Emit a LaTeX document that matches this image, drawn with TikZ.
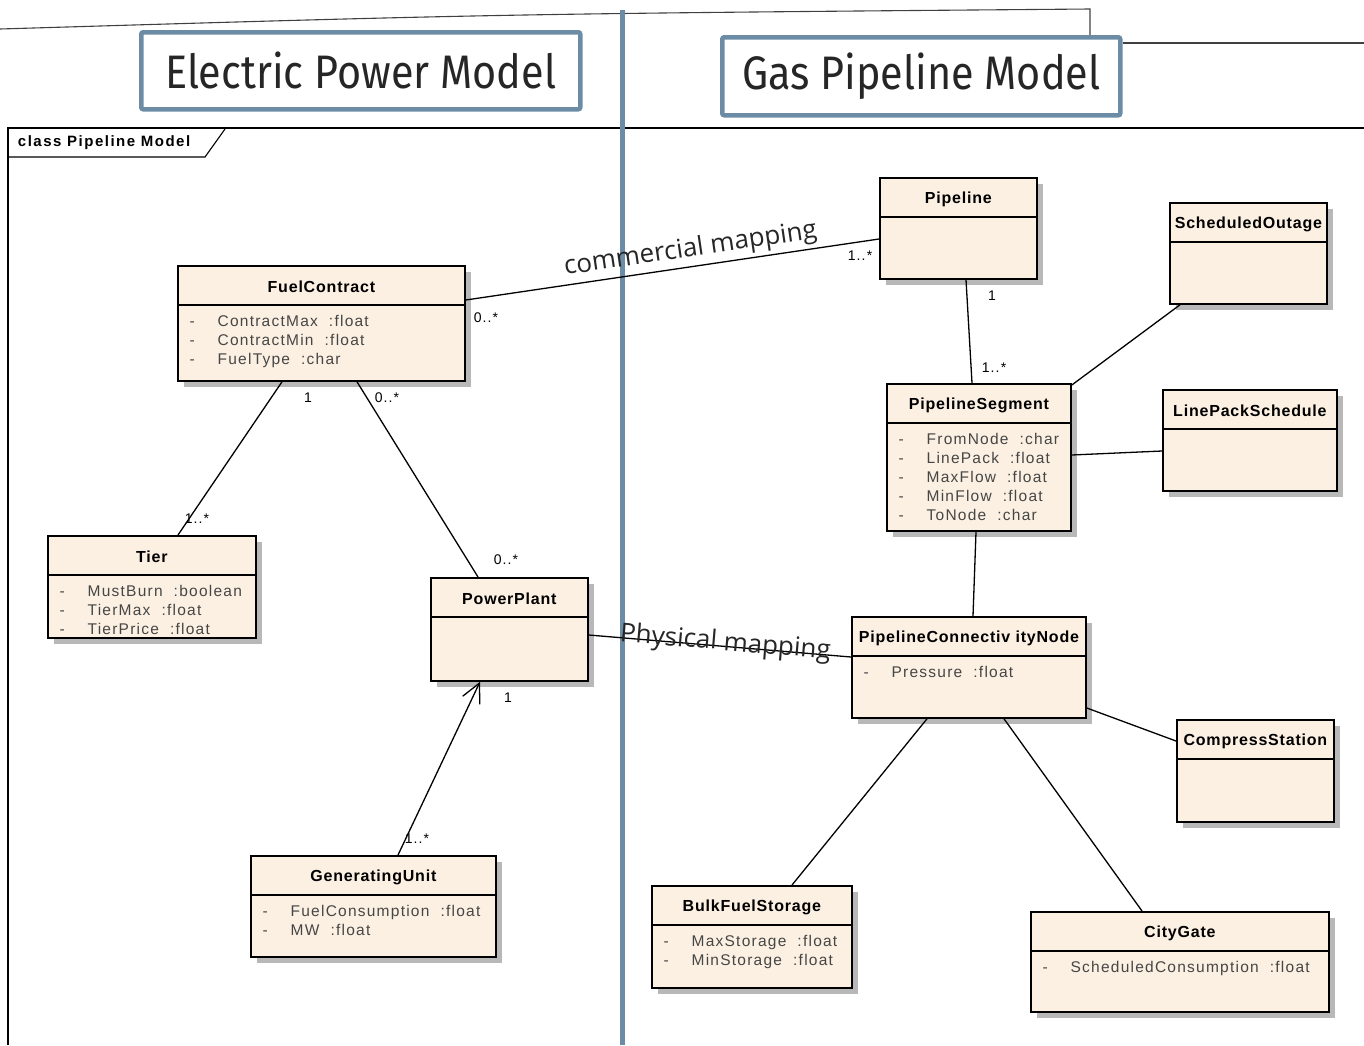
\documentclass[tikz,border=0pt]{standalone}
\usepackage{fontspec}
\setmainfont{Liberation Sans}
\newfontfamily\titlefont[FakeStretch=0.88]{Fira Sans}
\newfontfamily\mapfont{Open Sans}
\newfontfamily\clsfont[LetterSpace=5]{Liberation Sans}
\newfontfamily\attrfont[LetterSpace=8]{Liberation Sans}
\newfontfamily\framefont[LetterSpace=10]{Liberation Sans}
\usetikzlibrary{shadows,arrows.meta}

\definecolor{steel}{RGB}{108,140,166}
\definecolor{clsfill}{RGB}{251,240,226}
\definecolor{attrgray}{RGB}{70,70,70}

% one attribute row: dash, then name
\newcommand{\attr}[1]{\makebox[28pt][l]{-}#1}
% class box: name, x, y, width, height, title, attributes
\newcommand{\umlclass}[7]{%
  \node[cls, minimum width=#4pt, minimum height=#5pt] (#1) at (#2,#3) {};
  \draw[clsline] ([yshift=-40pt]#1.north west) -- ([yshift=-40pt]#1.north east);
  \node[clsname] (#1-name) at ([yshift=-22pt]#1.north) {#6};
  \node[clsattr] (#1-attr) at ([xshift=12pt,yshift=-50pt]#1.north west) {#7};
}

\begin{document}
\begin{tikzpicture}[x=1pt, y=-1pt, line width=1.3pt,
    cls/.style={draw, line width=1.8pt, fill=clsfill, anchor=north west, inner sep=0pt,
      drop shadow={shadow xshift=6pt, shadow yshift=-6pt, fill=black!28, opacity=1}},
    clsline/.style={line width=1.3pt},
    clsname/.style={font=\clsfont\bfseries\fontsize{16}{18}\selectfont},
    clsattr/.style={anchor=north west, align=left, inner sep=0pt, text=attrgray,
      font=\attrfont\fontsize{15.5}{19}\selectfont},
    titlebox/.style={draw=steel, line width=4.5pt, rounded corners=2pt, fill=white,
      inner sep=0pt, anchor=north west, text=black!85,
      font=\titlefont\fontsize{47}{50}\selectfont},
    mult/.style={font=\attrfont\fontsize{14}{15}\selectfont},
    maplabel/.style={font=\mapfont\fontsize{26}{28}\selectfont, text=black!85}]
  \useasboundingbox (0,0) rectangle (1364,1045);

  % frame and headings
  \draw[line width=1.1pt, black!75] (0,29) .. controls (500,14) .. (1090,9) -- (1090,35);
  \node[titlebox, minimum width=439pt, minimum height=77pt] (epm) at (139,30) {Electric Power Model};
  \node[titlebox, minimum width=398pt, minimum height=78pt] (gpm) at (720,35) {Gas Pipeline Model};
  \draw[line width=1.1pt, black!75] ([yshift=-8pt]gpm.north east) -- (1364,43);
  \draw[line width=1.1pt] (8,1045) -- (8,128) -- (1364,128);
  \draw[line width=1.1pt] (8,157) -- (205,157) -- (225,129);
  \node[anchor=west, font=\framefont\bfseries\fontsize{15}{17}\selectfont] (frame) at (14,143) {class Pipeline Model};
  \draw[steel, line width=5pt] (622,10) -- (622,1045);

  % classes
  \umlclass{fc}{177}{265}{287}{115}{FuelContract}{\attr{ContractMax~~:float}\\\attr{ContractMin~~:float}\\\attr{FuelType~~:char}}
  \umlclass{tier}{47}{535}{208}{102}{Tier}{\attr{MustBurn~~:boolean}\\\attr{TierMax~~:float}\\\attr{TierPrice~~:float}}
  \umlclass{pp}{430}{577}{157}{103}{PowerPlant}{}
  \umlclass{gu}{250}{855}{245}{101}{GeneratingUnit}{\attr{FuelConsumption~~:float}\\\attr{MW~~:float}}
  \umlclass{pl}{879}{177}{157}{101}{Pipeline}{}
  \umlclass{so}{1169}{202}{157}{101}{ScheduledOutage}{}
  \umlclass{seg}{886}{383}{184}{147}{PipelineSegment}{\attr{FromNode~~:char}\\\attr{LinePack~~:float}\\\attr{MaxFlow~~:float}\\\attr{MinFlow~~:float}\\\attr{ToNode~~:char}}
  \umlclass{lps}{1162}{389}{174}{101}{LinePackSchedule}{}
  \umlclass{pcn}{851}{616}{234}{101}{PipelineConnectiv ityNode}{\attr{Pressure~~:float}}
  \umlclass{cs}{1176}{719}{157}{102}{CompressStation}{}
  \umlclass{bfs}{651}{885}{200}{102}{BulkFuelStorage}{\attr{MaxStorage~~:float}\\\attr{MinStorage~~:float}}
  \umlclass{cg}{1030}{911}{298}{100}{CityGate}{\attr{ScheduledConsumption~~:float}}

  % associations
  \draw ([yshift=-35pt]fc.north east) -- ([yshift=-62pt]pl.north west)
    node[maplabel, sloped, above=0pt, pos=0.55] (cmap) {commercial mapping};
  \draw ([yshift=-58pt]pp.north east) -- ([yshift=-41pt]pcn.north west)
    node[maplabel, sloped, pos=0.52, yshift=3pt] (pmap) {Physical mapping};
  \draw ([xshift=105pt]fc.south west) -- ([xshift=131pt]tier.north west);
  \draw ([xshift=180pt]fc.south west) -- ([xshift=48pt]pp.north west);
  \draw[-{Straight Barb[length=19pt,width=19pt]}] ([xshift=148pt]gu.north west) -- ([xshift=50pt]pp.south west);
  \draw ([xshift=87pt]pl.south west) -- ([xshift=86pt]seg.north west);
  \draw ([xshift=11pt]so.south west) -- ([yshift=-2pt]seg.north east);
  \draw ([yshift=-72pt]seg.north east) -- ([yshift=-62pt]lps.north west);
  \draw ([xshift=90pt]seg.south west) -- ([xshift=122pt]pcn.north west);
  \draw ([yshift=-92pt]pcn.north east) -- ([yshift=-22pt]cs.north west);
  \draw ([xshift=76pt]pcn.south west) -- ([xshift=141pt]bfs.north west);
  \draw ([xshift=153pt]pcn.south west) -- ([xshift=112pt]cg.north west);

  % multiplicities
  \node[mult] (m1) at (486,318) {0..*};
  \node[mult] (m2) at (860,256) {1..*};
  \node[mult] (m3) at (308,398) {1};
  \node[mult] (m4) at (197,519) {1..*};
  \node[mult] (m5) at (387,398) {0..*};
  \node[mult] (m6) at (506,560) {0..*};
  \node[mult] (m7) at (508,698) {1};
  \node[mult] (m8) at (417,839) {1..*};
  \node[mult] (m9) at (992,296) {1};
  \node[mult] (m10) at (994,368) {1..*};
\end{tikzpicture}
\end{document}
